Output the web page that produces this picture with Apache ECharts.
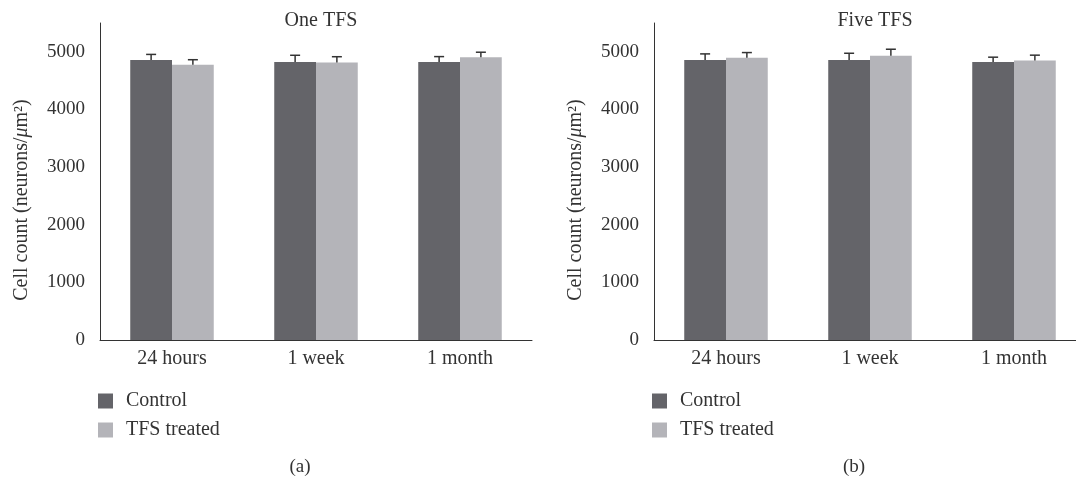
<!DOCTYPE html>
<html>
<head>
<meta charset="utf-8">
<script src="https://cdn.jsdelivr.net/npm/echarts@6/dist/echarts.min.js"></script>
<style>
  html, body { margin: 0; padding: 0; background: #fff; }
  #chart { width: 1076px; height: 482px; }
</style>
</head>
<body>
<div id="chart"></div>
<script>
// data
const categories = ["24 hours", "1 week", "1 month"];
const seriesNames = ["Control", "TFS treated"];
const panelTitles = ["One TFS", "Five TFS"];
const panelTags = ["(a)", "(b)"];

const oneControl = [4860, 4825, 4825];
const oneControlErr = [95, 115, 92];
const oneTreated = [4775, 4815, 4905];
const oneTreatedErr = [88, 100, 88];

const fiveControl = [4860, 4860, 4825];
const fiveControlErr = [104, 115, 82];
const fiveTreated = [4895, 4930, 4850];
const fiveTreatedErr = [92, 115, 92];

const yTicks = [0, 1000, 2000, 3000, 4000, 5000];

const colors = ["#646469", "#b4b4b9"];
const font = "'Liberation Serif', 'DejaVu Serif', serif";
const gapRatio = 0.42;

var chartDom = document.getElementById("chart");
var myChart = echarts.init(chartDom);

function errorSeries(gridIdx, side, vals, errs) {
  return {
    type: "custom",
    xAxisIndex: gridIdx,
    yAxisIndex: gridIdx,
    silent: true,
    z: 5,
    data: vals.map((v, i) => [i, v, v + errs[i]]),
    renderItem: function (params, api) {
      var catW = api.size([1, 0])[0];
      var barW = (catW * (1 - gapRatio)) / 2;
      var off = side === 0 ? -barW / 2 : barW / 2;
      var base = api.coord([api.value(0), api.value(1)]);
      var top = api.coord([api.value(0), api.value(2)]);
      var x = base[0] + off;
      var style = { stroke: "#333", lineWidth: 1.5 };
      return {
        type: "group",
        children: [
          { type: "line", shape: { x1: x, y1: base[1], x2: x, y2: top[1] }, style: style },
          { type: "line", shape: { x1: x - 5, y1: top[1], x2: x + 5, y2: top[1] }, style: style },
        ],
      };
    },
  };
}

function barSeries(gridIdx, name, vals, color) {
  return {
    name: name,
    type: "bar",
    xAxisIndex: gridIdx,
    yAxisIndex: gridIdx,
    barGap: "0%",
    barCategoryGap: gapRatio * 100 + "%",
    itemStyle: { color: color },
    data: vals,
  };
}

const lefts = [100, 654];

var option = {
  animation: false,
  textStyle: { fontFamily: font },
  title: panelTitles.map((t, i) => ({
    text: t,
    left: lefts[i] + 216,
    top: 6,
    textAlign: "center",
    textStyle: { fontFamily: font, fontSize: 20, fontWeight: "normal", color: "#333" },
  })),
  legend: [0, 1].map((i) => ({
    orient: "vertical",
    left: lefts[i] - 7,
    top: 386,
    itemWidth: 15,
    itemHeight: 15,
    itemGap: 9,
    icon: "rect",
    data: seriesNames,
    textStyle: { fontFamily: font, fontSize: 20, lineHeight: 20, color: "#333", padding: [0, 0, 0, 8] },
  })),
  grid: lefts.map((l) => ({ left: l, top: 23, width: 432, height: 317, outerBoundsMode: "none" })),
  xAxis: [0, 1].map((i) => ({
    type: "category",
    gridIndex: i,
    data: categories,
    axisLine: { lineStyle: { color: "#333", width: 1 } },
    axisTick: { show: false },
    axisLabel: { color: "#333", fontFamily: font, fontSize: 20, margin: 9 },
  })),
  yAxis: [0, 1].map((i) => ({
    type: "value",
    gridIndex: i,
    min: yTicks[0],
    max: 5500,
    interval: yTicks[1] - yTicks[0],
    axisLine: { show: true, lineStyle: { color: "#333", width: 1 } },
    axisTick: { show: false },
    splitLine: { show: false },
    axisLabel: {
      color: "#333",
      fontFamily: font,
      fontSize: 19,
      margin: 15,
      showMaxLabel: false,
      formatter: (v) => String(v),
    },
  })),
  graphic: [0, 1].flatMap((i) => [
    {
      type: "text",
      x: lefts[i] - 78,
      y: 200,
      rotation: Math.PI / 2,
      style: {
        text: "Cell count (neurons/{i|μ}m²)",
        fontFamily: font,
        fontSize: 20,
        fill: "#333",
        textAlign: "center",
        textVerticalAlign: "middle",
        rich: {
          i: { fontFamily: font, fontSize: 20, fontStyle: "italic", fill: "#333" },
        },
      },
    },
    {
      type: "text",
      x: lefts[i] + 200,
      y: 467,
      style: {
        text: panelTags[i],
        fontFamily: font,
        fontSize: 19,
        fill: "#333",
        textAlign: "center",
        textVerticalAlign: "middle",
      },
    },
  ]),
  series: [
    barSeries(0, seriesNames[0], oneControl, colors[0]),
    barSeries(0, seriesNames[1], oneTreated, colors[1]),
    barSeries(1, seriesNames[0], fiveControl, colors[0]),
    barSeries(1, seriesNames[1], fiveTreated, colors[1]),
    errorSeries(0, 0, oneControl, oneControlErr),
    errorSeries(0, 1, oneTreated, oneTreatedErr),
    errorSeries(1, 0, fiveControl, fiveControlErr),
    errorSeries(1, 1, fiveTreated, fiveTreatedErr),
  ],
};

option && myChart.setOption(option);
</script>
</body>
</html>
